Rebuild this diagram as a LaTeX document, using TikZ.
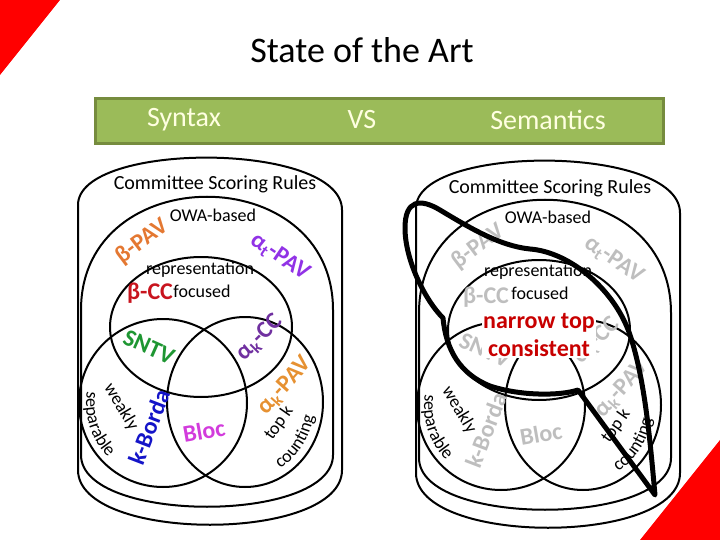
\documentclass[tikz,border=0pt]{standalone}
\usepackage{fontspec}
\setmainfont{Carlito}
\usetikzlibrary{decorations.text}
\definecolor{bargreen}{RGB}{155,187,89}
\definecolor{barborder}{RGB}{118,140,62}
\definecolor{bartext}{RGB}{255,255,225}
\definecolor{cbpav}{RGB}{228,120,50}
\definecolor{catpav}{RGB}{145,50,230}
\definecolor{cbcc}{RGB}{200,20,30}
\definecolor{csntv}{RGB}{30,150,50}
\definecolor{cakcc}{RGB}{112,48,160}
\definecolor{cakpav}{RGB}{230,145,50}
\definecolor{cborda}{RGB}{20,20,200}
\definecolor{cbloc}{RGB}{210,60,220}
\definecolor{cgrey}{RGB}{190,190,190}
\definecolor{cnarrow}{RGB}{200,0,0}
\tikzset{
  thin line/.style={line width=2pt},
  big/.style={font=\fontsize{20}{22}\selectfont},
  mid/.style={font=\fontsize{18}{20}\selectfont},
  rule/.style={font=\fontsize{24}{26}\selectfont\bfseries},
  bar/.style={font=\fontsize{28}{30}\selectfont, text=bartext},
  curved/.style={decorate, decoration={text along path, text align=center, text={|\fontsize{18}{20}\selectfont|#1}}},
  venn/.pic={
    \draw[thin line] (78,205) .. controls (78,141) and (342,141) .. (342,210) -- (342,470) .. controls (342,543) and (78,543) .. (78,470) -- cycle;
    \draw[thin line] (81,310) .. controls (81,159) and (333,159) .. (333,310) -- (333,455) .. controls (333,524) and (81,524) .. (81,455) -- cycle;
    \draw[thin line] (201,327) ellipse [x radius=91, y radius=70];
    \draw[thin line] (163,403) circle [radius=84];
    \draw[thin line] (245,402) ellipse [x radius=78, y radius=85];
    \path[curved=separable] (163,403) ++(192:77) arc[start angle=192, end angle=132, radius=77];
    \path[curved=counting] (245,402) ++(63:70 and 77) arc[start angle=63, end angle=8, x radius=70, y radius=77];
  }
}
\begin{document}
\begin{tikzpicture}[x=1pt,y=-1pt]
\useasboundingbox (0,0) rectangle (720,540);
\fill[red] (0,0) -- (60,0) -- (0,75) -- cycle;
\fill[red] (640,540) -- (720,540) -- (720,440) -- cycle;
\node[font=\fontsize{36}{40}\selectfont] (title) at (362,50) {State of the Art};
\draw[draw=barborder, line width=3pt, fill=bargreen] (95,99) rectangle (663,144);
\node[bar] (syn) at (184,120) {Syntax};
\node[bar] (vs) at (362,120) {VS};
\node[bar] (sem) at (548,120) {Semantics};

% left diagram
\pic at (0,0) {venn};
\node[big] (lcsr) at (215,184) {Committee Scoring Rules};
\node[mid] (lowa) at (213,215) {OWA-based};
\node[mid] (lrep) at (200,270) {representation};
\node[mid] (lfoc) at (202,291) {focused};
\node[rule, text=cbpav, rotate=37] (lbpav) at (142,242) {β-PAV};
\node[rule, text=catpav, rotate=-34] (latpav) at (280,257) {α\textsubscript{t}-PAV};
\node[rule, text=cbcc] (lbcc) at (150,293) {β-CC};
\node[rule, text=csntv, rotate=-24] (lsntv) at (149,347) {SNTV};
\node[rule, text=cakcc, rotate=45] (lakcc) at (260,338) {α\textsubscript{k}-CC};
\node[rule, text=cakpav, rotate=48] (lakpav) at (285,386) {α\textsubscript{k}-PAV};
\node[mid, rotate=55] (ltopk) at (279,423) {top k};
\node[mid, rotate=-59] (lweak) at (121,407) {weakly};
\node[rule, text=cborda, rotate=69] (lborda) at (149,427) {k-Borda};
\node[rule, text=cbloc, rotate=10] (lbloc) at (204,431) {Bloc};

% right diagram
\pic at (338,3) {venn};
\node[big] (rcsr) at (550,188) {Committee Scoring Rules};
\node[mid] (rowa) at (548,217) {OWA-based};
\node[mid] (rrep) at (538,272) {representation};
\node[mid] (rfoc) at (540,293) {focused};
\node[rule, text=cgrey, rotate=37] (rbpav) at (478,247) {β-PAV};
\node[rule, text=cgrey, rotate=-34] (ratpav) at (614,260) {α\textsubscript{t}-PAV};
\node[rule, text=cgrey] (rbcc) at (486,297) {β-CC};
\node[rule, text=cgrey, rotate=-24] (rsntv) at (485,350) {SNTV};
\node[rule, text=cgrey, rotate=45] (rakcc) at (597,341) {α\textsubscript{k}-CC};
\node[rule, text=cgrey, rotate=48] (rakpav) at (622,389) {α\textsubscript{k}-PAV};
\node[mid, rotate=55] (rtopk) at (616,426) {top k};
\node[mid, rotate=-59] (rweak) at (459,410) {weakly};
\node[rule, text=cgrey, rotate=69] (rborda) at (486,430) {k-Borda};
\node[rule, text=cgrey, rotate=10] (rbloc) at (541,434) {Bloc};
\node[rule, text=cnarrow, fill=white, align=center, inner sep=1pt, font=\fontsize{24}{28}\selectfont\bfseries] (narrow) at (539,335) {narrow top\\consistent};
\draw[line width=5pt, line join=round] (443,318)
  .. controls (425,300) and (405,260) .. (405,228)
  .. controls (405,200) and (420,198) .. (440,210)
  .. controls (470,228) and (500,246) .. (530,249)
  .. controls (570,252) and (615,290) .. (630,335)
  .. controls (645,380) and (650,440) .. (655,495)
  -- (578,390)
  .. controls (560,396) and (520,396) .. (490,386)
  .. controls (460,374) and (446,350) .. (443,318) -- cycle;
\end{tikzpicture}
\end{document}
